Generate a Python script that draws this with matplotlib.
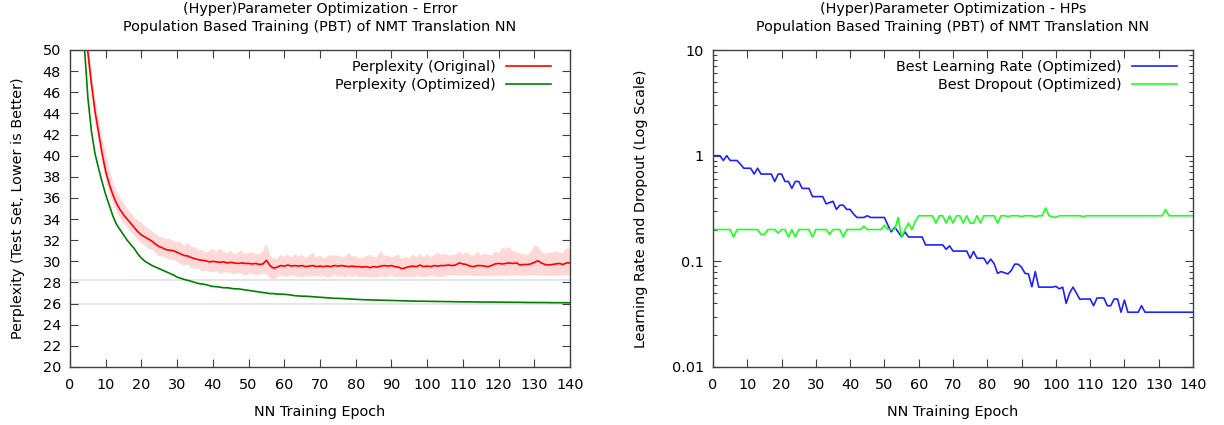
import numpy as np
import matplotlib
matplotlib.use("Agg")
import matplotlib.pyplot as plt

# ---------------- data ----------------
epochs = list(range(0, 141))

ppl_original = [
    100.0, 85.0, 70.0, 60.0, 54.0, 49.8, 46.8, 44.2, 42.2, 40.2,
    38.5, 37.3, 36.3, 35.5, 34.9, 34.4, 34.0, 33.6, 33.2, 32.8,
    32.5, 32.3, 32.1, 31.9, 31.6, 31.4, 31.25, 31.1, 31.05, 31.0,
    30.85, 30.7, 30.55, 30.5, 30.35, 30.25, 30.15, 30.1, 30.05, 29.95,
    30.0, 29.95, 29.9, 29.95, 29.85, 29.9, 29.85, 29.8, 29.85, 29.8,
    29.8, 29.75, 29.8, 29.7, 29.75, 30.1, 29.6, 29.35, 29.45, 29.6,
    29.55, 29.65, 29.55, 29.6, 29.55, 29.6, 29.5, 29.55, 29.6, 29.5,
    29.55, 29.5, 29.55, 29.5, 29.6, 29.55, 29.6, 29.55, 29.5, 29.55,
    29.5, 29.5, 29.45, 29.5, 29.4, 29.5, 29.45, 29.55, 29.6, 29.55,
    29.6, 29.5, 29.45, 29.3, 29.4, 29.5, 29.55, 29.5, 29.65, 29.5,
    29.55, 29.5, 29.6, 29.55, 29.6, 29.6, 29.65, 29.6, 29.65, 29.85,
    29.75, 29.7, 29.55, 29.5, 29.6, 29.6, 29.55, 29.5, 29.6, 29.75,
    29.8, 29.75, 29.8, 29.85, 29.8, 29.85, 29.65, 29.7, 29.7, 29.75,
    29.9, 30.05, 29.85, 29.7, 29.65, 29.7, 29.75, 29.8, 29.7, 29.85,
    29.85,
]

ppl_original_hi_dev = [
    1.5, 1.5, 1.5, 1.5, 1.5, 1.4, 1.4, 1.3, 1.3, 1.5,
    1.8, 1.4, 1.2, 1.2, 1.1, 1.1, 1.0, 1.0, 1.0, 1.1,
    1.2, 1.0, 1.0, 0.9, 1.0, 0.9, 1.0, 1.0, 1.1, 0.9,
    1.0, 1.1, 0.9, 1.3, 1.0, 1.1, 0.9, 1.0, 0.8, 1.0,
    1.2, 0.9, 1.3, 1.0, 0.9, 1.1, 0.8, 1.0, 1.2, 0.9,
    1.0, 1.1, 0.9, 1.0, 1.2, 1.6, 1.0, 0.9, 0.8, 1.0,
    0.9, 1.0, 0.8, 1.1, 0.9, 1.0, 0.8, 1.0, 1.2, 0.9,
    1.0, 0.8, 0.9, 1.1, 0.9, 1.0, 0.8, 0.9, 1.3, 0.9,
    1.0, 0.8, 0.9, 1.0, 1.2, 0.9, 1.0, 1.4, 0.9, 1.0,
    0.8, 1.0, 1.2, 0.9, 1.0, 0.8, 1.1, 0.9, 1.0, 0.9,
    1.1, 0.9, 1.0, 1.3, 1.0, 1.1, 0.9, 1.0, 1.0, 1.1,
    0.9, 1.2, 1.1, 1.0, 1.3, 1.0, 1.2, 1.1, 1.0, 1.2,
    1.0, 1.5, 1.4, 1.5, 1.2, 1.0, 1.1, 1.0, 0.9, 1.1,
    1.6, 1.4, 1.1, 1.0, 1.2, 1.1, 1.2, 1.0, 1.1, 1.4,
    1.3,
]

ppl_original_lo_dev = [
    1.0, 1.0, 1.0, 1.0, 1.0, 1.0, 0.9, 0.9, 0.9, 0.8,
    0.8, 0.8, 0.8, 0.7, 0.8, 0.8, 0.8, 0.8, 0.8, 0.8,
    0.8, 0.8, 0.9, 0.8, 0.8, 0.9, 0.8, 0.8, 0.9, 0.8,
    0.9, 1.0, 0.9, 0.8, 1.0, 0.9, 0.8, 1.1, 0.9, 1.0,
    1.0, 0.9, 1.1, 1.0, 0.9, 1.0, 1.1, 0.9, 1.0, 1.2,
    1.0, 0.9, 1.1, 1.0, 0.9, 1.3, 1.2, 1.1, 1.0, 0.9,
    1.0, 1.1, 0.9, 1.0, 1.0, 1.1, 0.9, 1.0, 1.0, 0.9,
    1.0, 0.9, 1.1, 1.0, 0.9, 1.0, 1.0, 1.1, 0.9, 1.0,
    0.9, 1.0, 0.9, 1.0, 0.9, 1.0, 1.0, 0.9, 1.1, 1.0,
    0.9, 1.0, 0.9, 0.8, 0.9, 1.0, 1.0, 0.9, 1.1, 1.0,
    1.0, 0.9, 1.0, 1.0, 1.1, 1.0, 1.0, 0.9, 1.0, 1.2,
    1.1, 1.0, 0.9, 0.9, 1.0, 1.0, 0.9, 0.9, 1.0, 1.1,
    1.2, 1.1, 1.2, 1.2, 1.1, 1.2, 1.0, 1.1, 1.0, 1.1,
    1.2, 1.4, 1.2, 1.1, 1.0, 1.1, 1.1, 1.2, 1.0, 1.2,
    1.2,
]

ppl_optimized = [
    100.0, 80.0, 66.0, 57.0, 50.5, 45.5, 42.3, 40.2, 38.8, 37.5,
    36.3, 35.3, 34.3, 33.5, 33.0, 32.5, 32.0, 31.6, 31.2, 30.7,
    30.3, 30.0, 29.8, 29.6, 29.45, 29.3, 29.15, 29.0, 28.85, 28.7,
    28.5, 28.4, 28.28, 28.2, 28.1, 28.0, 27.9, 27.85, 27.8, 27.7,
    27.62, 27.6, 27.55, 27.5, 27.5, 27.45, 27.4, 27.4, 27.35, 27.3,
    27.25, 27.2, 27.15, 27.1, 27.05, 27.0, 26.95, 26.95, 26.9, 26.9,
    26.88, 26.85, 26.8, 26.75, 26.72, 26.7, 26.7, 26.68, 26.65, 26.62,
    26.6, 26.58, 26.55, 26.52, 26.5, 26.5, 26.48, 26.46, 26.44, 26.42,
    26.4, 26.38, 26.37, 26.36, 26.35, 26.33, 26.32, 26.31, 26.3, 26.29,
    26.28, 26.27, 26.27, 26.26, 26.25, 26.25, 26.24, 26.23, 26.23, 26.22,
    26.22, 26.21, 26.21, 26.2, 26.2, 26.19, 26.19, 26.18, 26.18, 26.17,
    26.17, 26.16, 26.16, 26.16, 26.15, 26.15, 26.15, 26.14, 26.14, 26.14,
    26.14, 26.13, 26.13, 26.13, 26.12, 26.12, 26.12, 26.11, 26.11, 26.11,
    26.1, 26.1, 26.1, 26.1, 26.09, 26.09, 26.09, 26.09, 26.08, 26.08,
    26.08,
]

reference_levels = [28.2, 26.0]

best_lr = [
    1.0, 1.0, 1.0, 0.9, 1.0, 0.9, 0.9, 0.9, 0.83, 0.76,
    0.76, 0.76, 0.67, 0.76, 0.67, 0.67, 0.67, 0.67, 0.57, 0.67,
    0.67, 0.57, 0.57, 0.49, 0.57, 0.57, 0.49, 0.49, 0.49, 0.41,
    0.41, 0.41, 0.41, 0.35, 0.36, 0.37, 0.31, 0.34, 0.34, 0.31,
    0.31, 0.28, 0.26, 0.26, 0.26, 0.27, 0.26, 0.26, 0.26, 0.26,
    0.26, 0.22, 0.19, 0.21, 0.19, 0.17, 0.19, 0.17, 0.17, 0.17,
    0.17, 0.17, 0.143, 0.143, 0.143, 0.143, 0.143, 0.143, 0.13, 0.14,
    0.125, 0.125, 0.125, 0.125, 0.125, 0.107, 0.124, 0.107, 0.107, 0.107,
    0.0945, 0.105, 0.095, 0.077, 0.08, 0.078, 0.076, 0.082, 0.094, 0.094,
    0.088, 0.077, 0.076, 0.0575, 0.08, 0.057, 0.057, 0.057, 0.057, 0.057,
    0.058, 0.055, 0.057, 0.040, 0.05, 0.057, 0.05, 0.0437, 0.044, 0.044,
    0.044, 0.038, 0.045, 0.045, 0.045, 0.038, 0.038, 0.044, 0.044, 0.033,
    0.043, 0.033, 0.033, 0.033, 0.033, 0.038, 0.033, 0.033, 0.033, 0.033,
    0.033, 0.033, 0.033, 0.033, 0.033, 0.033, 0.033, 0.033, 0.033, 0.033,
    0.033,
]

best_dropout = [
    0.2, 0.2, 0.2, 0.2, 0.2, 0.2, 0.17, 0.2, 0.2, 0.2,
    0.2, 0.2, 0.2, 0.2, 0.18, 0.18, 0.2, 0.2, 0.2, 0.185,
    0.2, 0.2, 0.17, 0.2, 0.17, 0.2, 0.2, 0.2, 0.2, 0.17,
    0.2, 0.2, 0.2, 0.2, 0.18, 0.2, 0.2, 0.2, 0.17, 0.2,
    0.2, 0.2, 0.2, 0.2, 0.215, 0.2, 0.2, 0.2, 0.2, 0.2,
    0.22, 0.2, 0.2, 0.2, 0.26, 0.17, 0.2, 0.23, 0.2, 0.24,
    0.27, 0.27, 0.27, 0.27, 0.27, 0.23, 0.27, 0.27, 0.23, 0.27,
    0.23, 0.27, 0.27, 0.23, 0.27, 0.23, 0.23, 0.27, 0.23, 0.27,
    0.27, 0.27, 0.27, 0.23, 0.27, 0.27, 0.265, 0.27, 0.27, 0.27,
    0.265, 0.27, 0.27, 0.27, 0.265, 0.27, 0.27, 0.32, 0.27, 0.265,
    0.26, 0.27, 0.27, 0.27, 0.27, 0.27, 0.27, 0.27, 0.265, 0.27,
    0.27, 0.27, 0.27, 0.27, 0.27, 0.27, 0.27, 0.27, 0.27, 0.27,
    0.27, 0.27, 0.27, 0.27, 0.27, 0.27, 0.27, 0.27, 0.27, 0.27,
    0.27, 0.27, 0.31, 0.27, 0.27, 0.27, 0.27, 0.27, 0.27, 0.27,
    0.27,
]

x_ticks = list(range(0, 141, 10))
y_ticks_left = list(range(20, 51, 2))
y_ticks_right = [0.01, 0.1, 1, 10]
y_tick_labels_right = ["0.01", "0.1", "1", "10"]

# ---------------- plotting ----------------
plt.rcParams['font.family'] = ['DejaVu Sans']
FS = 10.4
frame_col = '#404040'

fig = plt.figure(figsize=(12.24, 4.25), dpi=100)
axL = fig.add_axes([70 / 1224, 1 - 367 / 425, 500 / 1224, 317 / 425])
axR = fig.add_axes([713 / 1224, 1 - 367 / 425, 480 / 1224, 317 / 425])

ep = np.array(epochs)
orig = np.array(ppl_original)
hi = orig + np.array(ppl_original_hi_dev)
lo = orig - np.array(ppl_original_lo_dev)

for lvl in reference_levels:
    axL.axhline(lvl, color='#e0e0e0', lw=1.2, zorder=1)
axL.fill_between(ep, lo, hi, color='#ffd8d8', lw=0, zorder=2)
axL.plot(ep, orig, color='#ff0000', lw=1.2, label='Perplexity (Original)', zorder=4)
axL.plot(ep, ppl_optimized, color='#008000', lw=1.2, label='Perplexity (Optimized)', zorder=3)
axL.set_xlim(0, 140)
axL.set_ylim(20, 50)
axL.set_xticks(x_ticks)
axL.set_yticks(y_ticks_left)
axL.set_xlabel('NN Training Epoch', fontsize=FS, labelpad=9)
axL.set_ylabel('Perplexity (Test Set, Lower is Better)', fontsize=FS, labelpad=13)
axL.set_title('(Hyper)Parameter Optimization - Error\nPopulation Based Training (PBT) of NMT Translation NN',
              fontsize=FS, pad=14, linespacing=1.3)

axR.plot(ep, best_lr, color='#2020ff', lw=1.2, label='Best Learning Rate (Optimized)')
axR.plot(ep, best_dropout, color='#20ff20', lw=1.2, label='Best Dropout (Optimized)')
axR.set_yscale('log')
axR.set_xlim(0, 140)
axR.set_ylim(0.01, 10)
axR.set_xticks(x_ticks)
axR.set_yticks(y_ticks_right)
axR.set_yticklabels(y_tick_labels_right)
axR.set_xlabel('NN Training Epoch', fontsize=FS, labelpad=9)
axR.set_ylabel('Learning Rate and Dropout (Log Scale)', fontsize=FS, labelpad=17)
axR.set_title('(Hyper)Parameter Optimization - HPs\nPopulation Based Training (PBT) of NMT Translation NN',
              fontsize=FS, pad=14, linespacing=1.3)

for ax, anchor in ((axL, (1 - 19 / 500, 1 - 10 / 317)), (axR, (1 - 16 / 480, 1 - 10 / 317))):
    for sp in ax.spines.values():
        sp.set_color(frame_col)
        sp.set_linewidth(1.0)
    ax.tick_params(axis='both', which='major', direction='in', length=6, width=0.8,
                   color=frame_col, labelsize=FS, top=True, right=True)
    ax.tick_params(axis='x', which='major', pad=8)
    ax.tick_params(axis='y', which='major', pad=6.5)
    ax.tick_params(axis='both', which='minor', direction='in', length=3, width=0.8,
                   color=frame_col, top=True, right=True)
    ax.legend(loc='upper right', markerfirst=False, frameon=False, fontsize=FS,
              handlelength=3.1, handletextpad=0.7, labelspacing=0.3,
              borderpad=0, borderaxespad=0, bbox_to_anchor=anchor)

axL.tick_params(axis='y', which='minor', left=False, right=False)

fig.savefig('out.png', dpi=100)
